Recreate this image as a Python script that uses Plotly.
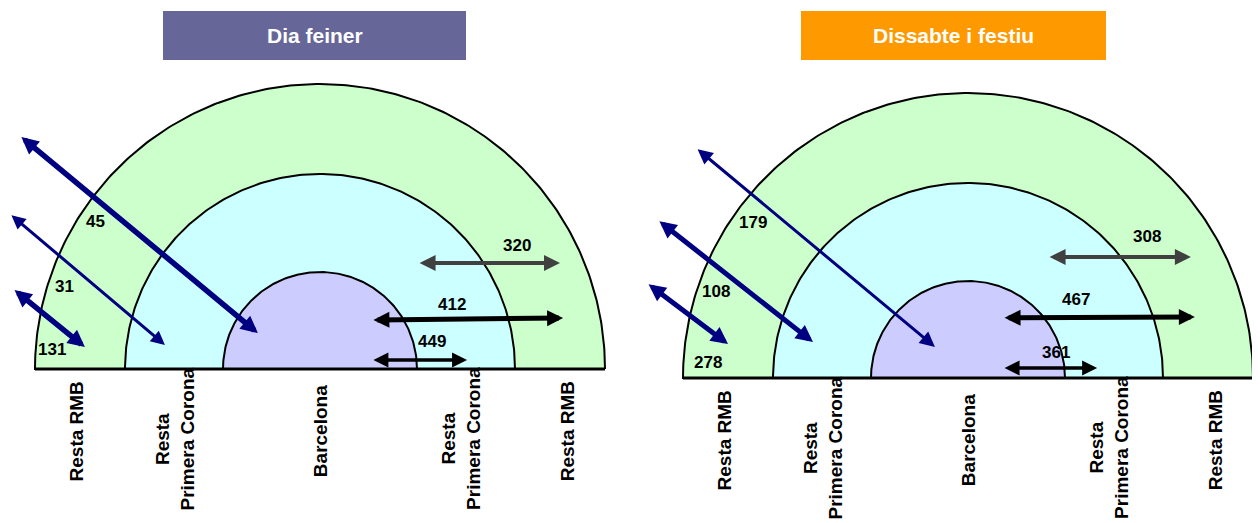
import numpy as np
import plotly.graph_objects as go

# ---------------- data ----------------
panel_titles = ["Dia feiner", "Dissabte i festiu"]
zone_labels = ["Resta RMB", "Resta<br>Primera Corona", "Barcelona",
               "Resta<br>Primera Corona", "Resta RMB"]
# diagonal flows (top to bottom) and horizontal flows (top to bottom)
feiner_diag_values = [45, 31, 131]
feiner_horiz_values = [320, 412, 449]
festiu_diag_values = [179, 108, 278]
festiu_horiz_values = [308, 467, 361]

# ---------------- layout / geometry ----------------
PAGE_OFF = 8                      # default page body margin
W, H = 1260 - PAGE_OFF, 523 - PAGE_OFF
R_PX = 285.0
FONT = "Arial, Liberation Sans, sans-serif"
NAVY, GRAY, BLACK = "#000080", "#404040", "#000000"

panels = [
    dict(cx=320, base=369, x0=PAGE_OFF, x1=630, box=(163, 466, 11, 60), color="#666699",
         diag=feiner_diag_values, horiz=feiner_horiz_values),
    dict(cx=968, base=378, x0=630, x1=1260, box=(801, 1106, 11, 60), color="#FF9900",
         diag=festiu_diag_values, horiz=festiu_horiz_values),
]
ring_radii = [1.0, 195 / 285, 97 / 285]
ring_colors = ["#CCFFCC", "#CCFFFF", "#CCCCFF"]
label_x = [-0.855, -0.51, 0.0, 0.495, 0.867]

# arrow geometry per panel: (tail, head, label position, width, colour, head px)
diag_geom = [
    [((-1.053, 0.818), (-0.218, 0.126), (-0.789, 0.516), 5.5, NAVY, 17),
     ((-1.088, 0.544), (-0.544, 0.084), (-0.898, 0.291), 3, NAVY, 14),
     ((-1.077, 0.281), (-0.825, 0.077), (-0.940, 0.067), 5.5, NAVY, 17)],
    [((-0.954, 0.807), (-0.116, 0.109), (-0.754, 0.547), 3, NAVY, 15),
     ((-1.088, 0.554), (-0.544, 0.126), (-0.884, 0.302), 5, NAVY, 17),
     ((-1.126, 0.333), (-0.842, 0.119), (-0.912, 0.056), 5, NAVY, 17)],
]
horiz_geom = [
    [((0.344, 0.372), (0.842, 0.372), (0.691, 0.432), 4, GRAY, 16),
     ((0.182, 0.172), (0.853, 0.179), (0.463, 0.228), 5, BLACK, 16),
     ((0.182, 0.032), (0.516, 0.032), (0.393, 0.095), 3.5, BLACK, 15)],
    [((0.281, 0.425), (0.782, 0.425), (0.628, 0.498), 4, GRAY, 16),
     ((0.123, 0.211), (0.796, 0.214), (0.379, 0.274), 5, BLACK, 16),
     ((0.123, 0.035), (0.453, 0.035), (0.309, 0.091), 3.5, BLACK, 15)],
]

fig = go.Figure()
shapes, annotations = [], []
theta = np.linspace(0, np.pi, 241)

for i, p in enumerate(panels):
    sfx = "" if i == 0 else str(i + 1)
    xr, yr = "x" + sfx, "y" + sfx
    # semicircular zones
    for r, col in zip(ring_radii, ring_colors):
        xs = np.concatenate([r * np.cos(theta), [-r, r]])
        ys = np.concatenate([r * np.sin(theta), [0, 0]])
        fig.add_trace(go.Scatter(x=xs, y=ys, mode="lines", fill="toself",
                                 fillcolor=col, line=dict(color="black", width=2),
                                 hoverinfo="skip", showlegend=False,
                                 xaxis=xr, yaxis=yr))
    fig.add_trace(go.Scatter(x=[-1, 1], y=[0, 0], mode="lines",
                             line=dict(color="black", width=3),
                             hoverinfo="skip", showlegend=False, xaxis=xr, yaxis=yr))

    # title box (converted from page pixel layout to panel units)
    bx0, bx1, by0, by1 = p["box"]
    u = lambda px: (px - p["cx"]) / R_PX
    v = lambda py: (p["base"] - py) / R_PX
    shapes.append(dict(type="rect", xref=xr, yref=yr, x0=u(bx0), x1=u(bx1),
                       y0=v(by1), y1=v(by0), fillcolor=p["color"], line=dict(width=0),
                       layer="below"))
    annotations.append(dict(xref=xr, yref=yr, x=u((bx0 + bx1) / 2), y=v((by0 + by1) / 2),
                            text="<b>%s</b>" % panel_titles[i], showarrow=False,
                            font=dict(family=FONT, size=21, color="white"),
                            xanchor="center", yanchor="middle"))

    # arrows + values
    for vals, geoms in ((p["diag"], diag_geom[i]), (p["horiz"], horiz_geom[i])):
        for val, (tail, head, lab, w, col, hpx) in zip(vals, geoms):
            size = hpx / (5.0 * w)
            annotations.append(dict(xref=xr, yref=yr, axref=xr, ayref=yr,
                                    x=head[0], y=head[1], ax=tail[0], ay=tail[1],
                                    text="", showarrow=True, arrowside="end+start",
                                    arrowhead=2, startarrowhead=2,
                                    arrowsize=size, startarrowsize=size,
                                    arrowwidth=w, arrowcolor=col,
                                    standoff=0, startstandoff=0))
            annotations.append(dict(xref=xr, yref=yr, x=lab[0], y=lab[1],
                                    text="<b>%d</b>" % val, showarrow=False,
                                    font=dict(family=FONT, size=17, color="black"),
                                    xanchor="center", yanchor="middle"))

    # zone labels below the baseline
    for lx, txt in zip(label_x, zone_labels):
        dy = -0.245 if "<br>" in txt else -0.218
        annotations.append(dict(xref=xr, yref=yr, x=lx, y=dy, text="<b>%s</b>" % txt,
                                showarrow=False, textangle=-90,
                                font=dict(family=FONT, size=19, color="black"),
                                xanchor="center", yanchor="middle"))

    # axes: page pixels -> panel units (page offset removed)
    xaxis = dict(domain=[(p["x0"] - PAGE_OFF) / W, (p["x1"] - PAGE_OFF) / W],
                 range=[(p["x0"] - p["cx"]) / R_PX, (p["x1"] - p["cx"]) / R_PX],
                 visible=False, fixedrange=True)
    yaxis = dict(domain=[0, 1],
                 range=[(p["base"] - 523) / R_PX, (p["base"] - PAGE_OFF) / R_PX],
                 visible=False, fixedrange=True)
    fig.update_layout(**{"xaxis" + sfx: xaxis, "yaxis" + sfx: yaxis})

fig.update_layout(width=W, height=H, margin=dict(l=0, r=0, t=0, b=0),
                  paper_bgcolor="white", plot_bgcolor="white",
                  shapes=shapes, annotations=annotations,
                  hovermode=False, showlegend=False)
fig.write_html("out.html")
